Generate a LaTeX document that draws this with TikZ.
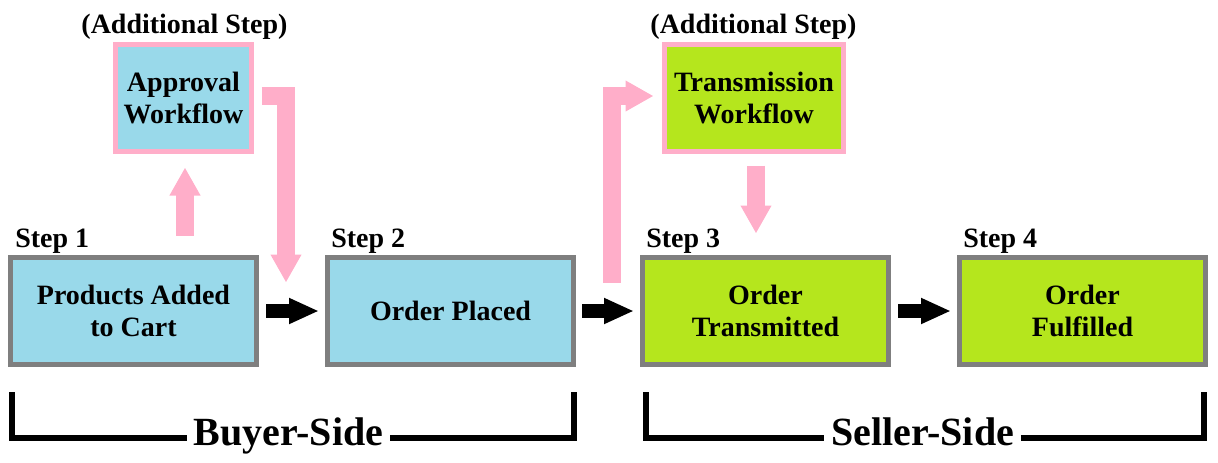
\documentclass[tikz,border=0pt]{standalone}
\usepackage{fontspec}
\setmainfont{Liberation Serif}
\usetikzlibrary{arrows.meta,calc}
\definecolor{boxblue}{RGB}{153,217,234}
\definecolor{boxlime}{RGB}{181,230,29}
\definecolor{flowpink}{RGB}{255,174,201}
\definecolor{boxgray}{RGB}{127,127,127}
\newcommand\dgtxt{\fontsize{21}{23.5}\selectfont\bfseries}
\newcommand\dgbig{\fontsize{30}{34}\selectfont\bfseries}
\begin{document}
\begin{tikzpicture}[x=0.75pt,y=-0.75pt,
  stepbox/.style={draw=boxgray,line width=3.75pt,minimum width=184.5pt,minimum height=80.25pt,inner sep=0pt,align=center,font=\dgtxt},
  flowbox/.style={draw=flowpink,line width=3.75pt,minimum height=80.25pt,inner sep=0pt,align=center,font=\dgtxt},
  lbl/.style={inner sep=0pt,font=\dgtxt},
  sidelbl/.style={inner ysep=0pt,inner xsep=5pt,font=\dgbig},
  blackarrow/.style={draw=black,line width=10.5pt,-{Triangle[length=22.5pt,width=18pt]}},
  pinkarrow/.style={draw=flowpink,line width=13.5pt,line join=miter,-{Triangle[length=21pt,width=21.75pt]}},
  bracket/.style={draw=black,line width=4.5pt,line join=miter}]
\useasboundingbox (0,0) rectangle (1218,462);

% main steps
\node[stepbox,fill=boxblue] (b1) at (133.5,311) {Products Added\\to Cart};
\node[stepbox,fill=boxblue] (b2) at (450.5,311) {Order Placed};
\node[stepbox,fill=boxlime] (b3) at (765.5,311) {Order\\Transmitted};
\node[stepbox,fill=boxlime] (b4) at (1082.5,311) {Order\\Fulfilled};

% additional workflows
\node[flowbox,fill=boxblue,minimum width=102pt] (appr) at (183.5,98) {Approval\\Workflow};
\node[flowbox,fill=boxlime,minimum width=134.25pt] (trans) at (754,98) {Transmission\\Workflow};

% labels
\node[lbl,anchor=base west] (s1) at (15,247) {Step 1};
\node[lbl,anchor=base west] (s2) at (331,247) {Step 2};
\node[lbl,anchor=base west] (s3) at (646,247) {Step 3};
\node[lbl,anchor=base west] (s4) at (963,247) {Step 4};
\node[lbl,anchor=base] (add1) at (184.5,33) {(Additional Step)};
\node[lbl,anchor=base] (add2) at (753.5,33) {(Additional Step)};

% black arrows
\draw[blackarrow] ($(b1.east)+(7,0)$) -- ($(b2.west)+(-6,0)$);
\draw[blackarrow] ($(b2.east)+(6,0)$) -- ($(b3.west)+(-6,0)$);
\draw[blackarrow] ($(b3.east)+(7,0)$) -- ($(b4.west)+(-6,0)$);

% pink arrows
\draw[pinkarrow] ($(b1.north -| appr.south)+(1.5,-19.5)$) -- ($(appr.south)+(1.5,13.5)$);
\draw[pinkarrow] ($(appr.east)+(7.5,-2)$) -| ($(b2.north west)+(-39,27.5)$);
\draw[pinkarrow] ($(b2.north east)+(35.5,27.5)$) |- ($(trans.west)+(-8.5,-2)$);
\draw[pinkarrow] ($(trans.south)+(2,11.5)$) -- ($(b3.north -| trans.south)+(2,-21.5)$);

% brackets
\node[sidelbl,anchor=base] (blab) at (288.5,445) {Buyer-Side};
\node[sidelbl,anchor=base] (slab) at (922.5,445) {Seller-Side};
\coordinate (bTL) at (11.5,392);
\coordinate (bBL) at (11.5,438);
\coordinate (bBR) at (574,438);
\coordinate (bTR) at (574,392);
\coordinate (sTL) at (646,392);
\coordinate (sBL) at (646,438);
\coordinate (sBR) at (1204,438);
\coordinate (sTR) at (1204,392);
\draw[bracket] (bTL) -- (bBL) -- (blab.west |- bBL);
\draw[bracket] (blab.east |- bBR) -- (bBR) -- (bTR);
\draw[bracket] (sTL) -- (sBL) -- (slab.west |- sBL);
\draw[bracket] (slab.east |- sBR) -- (sBR) -- (sTR);
\end{tikzpicture}
\end{document}
